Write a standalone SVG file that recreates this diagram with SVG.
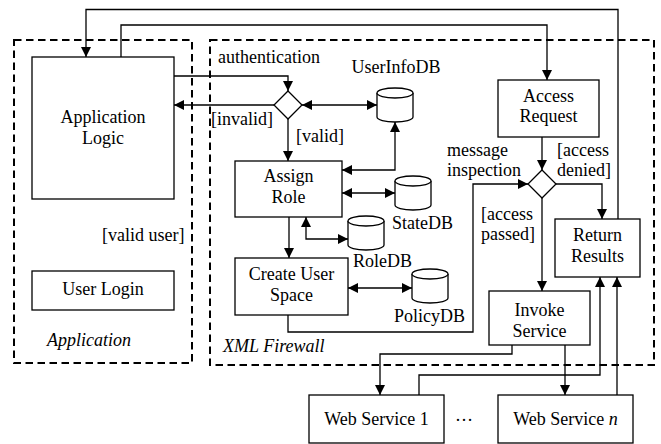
<svg xmlns="http://www.w3.org/2000/svg" width="661" height="444" viewBox="0 0 661 444">
<style>
  text, tspan{font-family:Liberation Serif, serif;font-size:18px}
  .box{fill:#fff;stroke:#000;stroke-width:1.3}
  .dash{fill:none;stroke:#000;stroke-width:2;stroke-dasharray:7.5 4.5}
  .ln{fill:none;stroke:#000;stroke-width:1.3}
  .a{marker-end:url(#ah)}
  .b{marker-start:url(#ahs);marker-end:url(#ah)}
  .c{text-anchor:middle}
  .i{font-style:italic}
</style>
<defs>
  <marker id="ah" viewBox="0 0 10 10" refX="10" refY="5" markerWidth="10" markerHeight="10" markerUnits="userSpaceOnUse" orient="auto">
    <path d="M0,0 L10,5 L0,10 z" fill="#000"/>
  </marker>
  <marker id="ahs" viewBox="0 0 10 10" refX="0" refY="5" markerWidth="10" markerHeight="10" markerUnits="userSpaceOnUse" orient="auto">
    <path d="M10,0 L0,5 L10,10 z" fill="#000"/>
  </marker>
  <g id="cyl">
    <path d="M-18,-12 V12 A18,5 0 0 0 18,12 V-12" fill="#fff" stroke="#000" stroke-width="1.3"/>
    <ellipse cx="0" cy="-12" rx="18" ry="5" fill="#fff" stroke="#000" stroke-width="1.3"/>
  </g>
</defs>
<rect width="661" height="444" fill="#fff"/>

<g id="containers">
  <rect class="dash" x="14" y="40" width="178" height="323"/>
  <text class="i" x="47" y="346">Application</text>
  <rect class="dash" x="210" y="40" width="444" height="325"/>
  <text class="i" x="223" y="352">XML Firewall</text>
</g>

<g id="connectors">
  <path class="ln a" d="M618,219 V9.5 H86 V57"/>
  <path class="ln a" d="M121,57 V25 H547 V80"/>
  <path class="ln a" d="M174,76 H288 V91"/>
  <path class="ln a" d="M274,105 H174"/>
  <path class="ln b" d="M302,105 H377"/>
  <path class="ln a" d="M288,119 V161"/>
  <path class="ln b" d="M395,122 V170 H342"/>
  <path class="ln b" d="M342,193 H395"/>
  <path class="ln b" d="M306,217 V239 H348"/>
  <path class="ln a" d="M289,217 V258"/>
  <path class="ln b" d="M348,288 H412"/>
  <path class="ln a" d="M288,315 V332 H473 V184 H528"/>
  <path class="ln a" d="M542,137 V170"/>
  <path class="ln a" d="M556,184 H602 V219"/>
  <path class="ln a" d="M542,198 V291"/>
  <path class="ln a" d="M512,345 V354 H380 V395"/>
  <path class="ln a" d="M565,345 V395"/>
  <path class="ln a" d="M419,395 V375 H600 V277"/>
  <path class="ln a" d="M617,395 V277"/>
  <text x="218" y="63">authentication</text>
  <text x="211" y="125">[invalid]</text>
  <text x="296" y="142">[valid]</text>
  <text x="102" y="241">[valid user]</text>
  <text x="447" y="156">message</text>
  <text x="447" y="176">inspection</text>
  <text x="557" y="156">[access</text>
  <text x="557" y="176">denied]</text>
  <text x="481" y="220">[access</text>
  <text x="481" y="240">passed]</text>
</g>

<g id="app-logic">
  <rect class="box" x="32" y="57" width="142" height="142"/>
  <text class="c" x="103" y="123">Application</text>
  <text class="c" x="103" y="144">Logic</text>
</g>
<g id="user-login">
  <rect class="box" x="32" y="271" width="142" height="39"/>
  <text class="c" x="103" y="295">User Login</text>
</g>
<g id="auth-decision">
  <path class="box" d="M288,91 L302,105 L288,119 L274,105 z"/>
</g>
<g id="userinfodb">
  <use href="#cyl" x="395" y="105"/>
  <text class="c" x="396" y="73">UserInfoDB</text>
</g>
<g id="assign-role">
  <rect class="box" x="235" y="161" width="107" height="56"/>
  <text class="c" x="288.5" y="182">Assign</text>
  <text class="c" x="288.5" y="203">Role</text>
</g>
<g id="statedb">
  <use href="#cyl" x="413" y="193"/>
  <text x="392" y="229">StateDB</text>
</g>
<g id="roledb">
  <use href="#cyl" x="366" y="233"/>
  <text x="353" y="267">RoleDB</text>
</g>
<g id="create-user-space">
  <rect class="box" x="235" y="258" width="113" height="57"/>
  <text class="c" x="291.5" y="280">Create User</text>
  <text class="c" x="291.5" y="301">Space</text>
</g>
<g id="policydb">
  <use href="#cyl" x="430" y="286"/>
  <text x="394" y="322">PolicyDB</text>
</g>
<g id="access-request">
  <rect class="box" x="498" y="80" width="101" height="57"/>
  <text class="c" x="548.5" y="102">Access</text>
  <text class="c" x="548.5" y="122">Request</text>
</g>
<g id="access-decision">
  <path class="box" d="M542,170 L556,184 L542,198 L528,184 z"/>
</g>
<g id="return-results">
  <rect class="box" x="555" y="219" width="85" height="58"/>
  <text class="c" x="597.5" y="241">Return</text>
  <text class="c" x="597.5" y="262">Results</text>
</g>
<g id="invoke-service">
  <rect class="box" x="489" y="291" width="101" height="54"/>
  <text class="c" x="539.5" y="316">Invoke</text>
  <text class="c" x="539.5" y="337">Service</text>
</g>
<g id="web-service-1">
  <rect class="box" x="309" y="395" width="135" height="48"/>
  <text class="c" x="376.5" y="425">Web Service 1</text>
</g>
<g id="ellipsis">
  <text class="c" x="464" y="421">…</text>
</g>
<g id="web-service-n">
  <rect class="box" x="498" y="395" width="135" height="48"/>
  <text class="c" x="565.5" y="425">Web Service <tspan class="i">n</tspan></text>
</g>
</svg>
